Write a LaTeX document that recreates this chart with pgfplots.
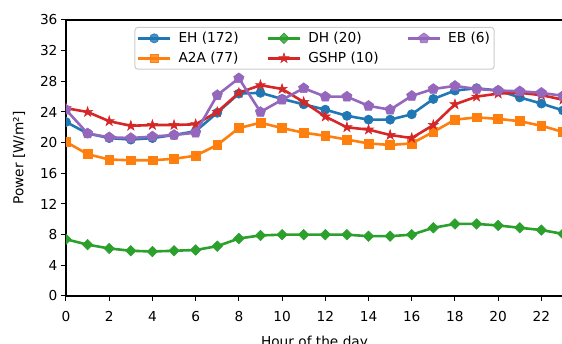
\documentclass[border=0pt]{standalone}
\usepackage{fontspec}
\setmainfont{DejaVu Sans}
\usepackage{pgfplots}
\usepackage{pgfplotstable}
\pgfplotsset{compat=1.18}
\usetikzlibrary{plotmarks}

\definecolor{tabblue}{HTML}{1F77B4}
\definecolor{taborange}{HTML}{FF7F0E}
\definecolor{tabgreen}{HTML}{2CA02C}
\definecolor{tabred}{HTML}{D62728}
\definecolor{tabpurple}{HTML}{9467BD}

\pgfdeclareplotmark{fstar}{%
  \pgfpathmoveto{\pgfpointpolar{90}{\pgfplotmarksize}}%
  \pgfpathlineto{\pgfpointpolar{126}{0.38\pgfplotmarksize}}%
  \pgfpathlineto{\pgfpointpolar{162}{\pgfplotmarksize}}%
  \pgfpathlineto{\pgfpointpolar{198}{0.38\pgfplotmarksize}}%
  \pgfpathlineto{\pgfpointpolar{234}{\pgfplotmarksize}}%
  \pgfpathlineto{\pgfpointpolar{270}{0.38\pgfplotmarksize}}%
  \pgfpathlineto{\pgfpointpolar{306}{\pgfplotmarksize}}%
  \pgfpathlineto{\pgfpointpolar{342}{0.38\pgfplotmarksize}}%
  \pgfpathlineto{\pgfpointpolar{18}{\pgfplotmarksize}}%
  \pgfpathlineto{\pgfpointpolar{54}{0.38\pgfplotmarksize}}%
  \pgfpathclose
  \pgfusepathqfillstroke}

\pgfplotstableread{
h EH A2A DH GSHP EB
0 22.7 20.1 7.4 24.5 24.3
1 21.2 18.5 6.7 24.0 21.2
2 20.6 17.8 6.2 22.8 20.7
3 20.4 17.7 5.9 22.2 20.6
4 20.6 17.7 5.8 22.3 20.8
5 21.0 17.9 5.9 22.3 21.0
6 21.5 18.3 6.0 22.4 21.3
7 23.9 19.7 6.5 24.0 26.2
8 26.4 21.9 7.5 26.5 28.4
9 26.5 22.6 7.9 27.5 24.0
10 25.7 21.9 8.0 27.0 25.6
11 25.0 21.3 8.0 25.3 27.1
12 24.3 20.9 8.0 23.4 26.0
13 23.5 20.4 8.0 22.0 26.0
14 23.0 19.9 7.8 21.7 24.8
15 23.0 19.7 7.8 21.0 24.3
16 23.7 19.9 8.0 20.6 26.1
17 25.7 21.4 8.9 22.3 27.0
18 26.8 23.0 9.4 25.0 27.4
19 27.1 23.3 9.4 26.0 27.0
20 26.8 23.1 9.2 26.4 26.8
21 25.9 22.8 8.9 26.5 26.7
22 25.1 22.2 8.6 26.2 26.5
23 24.2 21.4 8.1 25.6 26.1
}\datatable

\pgfplotsset{
  sEH/.style={tabblue, line width=2.6pt, mark=*, mark size=4.6pt, mark options={solid, draw=tabblue, fill=tabblue, line width=0.6pt}},
  sA2A/.style={taborange, line width=2.6pt, mark=square*, mark size=4.4pt, mark options={solid, draw=taborange, fill=taborange, line width=0.6pt}},
  sDH/.style={tabgreen, line width=2.6pt, mark=square*, mark size=3.7pt, mark options={solid, rotate=45, draw=tabgreen, fill=tabgreen, line width=0.6pt}},
  sGSHP/.style={tabred, line width=2.6pt, mark=fstar, mark size=5.2pt, mark options={solid, draw=tabred, fill=tabred, line width=0.6pt}},
  sEB/.style={tabpurple, line width=2.6pt, mark=pentagon*, mark size=5.4pt, mark options={solid, draw=tabpurple, fill=tabpurple, line width=0.6pt}},
}

\begin{document}
\begin{tikzpicture}
\begin{axis}[
  name=ax,
  scale only axis,
  width=497pt, height=276pt,
  xmin=0, xmax=23, ymin=0, ymax=36,
  xtick={0,2,...,22}, ytick={0,4,...,36},
  tick align=outside, xtick pos=bottom, ytick pos=left,
  major tick length=5pt,
  tick style={black, line width=1pt},
  axis line style={line width=1.1pt},
  /pgf/number format/assume math mode=true,
  tick label style={font=\fontsize{13.7}{16}\selectfont},
  xticklabel style={yshift=-7pt},
  label style={font=\fontsize{13.7}{16}\selectfont},
  xlabel={Hour of the day},
  xlabel style={yshift=-7pt},
  ylabel={Power [W/m²]},
  ylabel style={yshift=8pt},
  clip marker paths=true,
  legend image code/.code={\draw[mark repeat=2,mark phase=2] plot coordinates {(0pt,0pt)(16pt,0pt)(32pt,0pt)};},
  legend style={at={(0.5,0.975)}, anchor=north, legend columns=3,
    font=\fontsize{13.7}{16}\selectfont,
    draw=black!20, line width=1pt, rounded corners=3pt, fill=white, fill opacity=0.8, text opacity=1,
    /tikz/every odd column/.append style={column sep=5pt},
    /tikz/every even column/.append style={column sep=26pt},
    /tikz/row sep=4pt,
    inner xsep=2pt, inner ysep=3pt},
  legend cell align=left,
]
\addplot[sEH, forget plot] table[x=h,y=EH] {\datatable};
\addplot[sA2A, forget plot] table[x=h,y=A2A] {\datatable};
\addplot[sDH, forget plot] table[x=h,y=DH] {\datatable};
\addplot[sGSHP, forget plot] table[x=h,y=GSHP] {\datatable};
\addplot[sEB, forget plot] table[x=h,y=EB] {\datatable};

\addlegendimage{sEH}
\addlegendentry{EH (172)}
\addlegendimage{sDH}
\addlegendentry{DH (20)}
\addlegendimage{sEB}
\addlegendentry{EB (6)}
\addlegendimage{sA2A}
\addlegendentry{A2A (77)}
\addlegendimage{sGSHP}
\addlegendentry{GSHP (10)}
\end{axis}
\pgfresetboundingbox
\path[use as bounding box] ([xshift=-66pt,yshift=-48pt]ax.south west) rectangle ([xshift=-1pt,yshift=20pt]ax.north east);
\end{tikzpicture}
\end{document}
